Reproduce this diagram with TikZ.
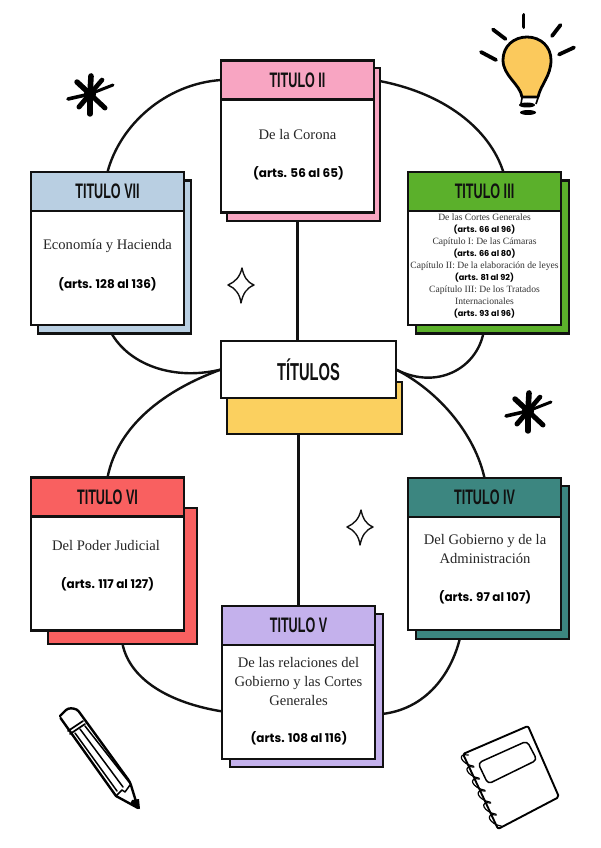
\documentclass[tikz,border=0pt]{standalone}
\usepackage{fontspec}
\usepackage{xcolor}
\usetikzlibrary{positioning,backgrounds,calc}
\setmainfont{Liberation Serif}
\newfontfamily\headfont[FakeStretch=0.6]{Liberation Sans}
\newfontfamily\artsfont{Poppins}
\newcommand{\smallarts}{\artsfont\bfseries\fontsize{8.2}{12.1}\selectfont\color{black}}
\definecolor{pinkt}{HTML}{F8A5C2}
\definecolor{greent}{HTML}{5BB02B}
\definecolor{bluet}{HTML}{B9CFE2}
\definecolor{redt}{HTML}{F96060}
\definecolor{tealt}{HTML}{3C8680}
\definecolor{lilact}{HTML}{C4B1EC}
\definecolor{yellowt}{HTML}{FBD05F}
\definecolor{bulbt}{HTML}{FBC95C}
\definecolor{inkt}{HTML}{111111}

\begin{document}
\begin{tikzpicture}[
  x=1pt, y=-1pt,
  backbox/.style={rectangle, draw=inkt, line width=2.1pt, minimum width=153pt, minimum height=153pt,
                  inner sep=0pt, outer sep=0pt},
  headbox/.style={rectangle, draw=inkt, line width=2.1pt, minimum width=153pt, minimum height=39pt,
                  inner sep=0pt, outer sep=0pt, align=center, text=inkt,
                  font=\headfont\bfseries\fontsize{21}{23}\selectfont},
  bodybox/.style={rectangle, draw=inkt, fill=white, line width=2.1pt, minimum width=153pt,
                  minimum height=114pt, inner sep=0pt, outer sep=0pt},
  desc/.style={align=center, inner sep=0pt, text=black!85, font=\fontsize{14.6}{19}\selectfont},
  arts/.style={inner sep=0pt, text=black, font=\artsfont\bfseries\fontsize{12}{14}\selectfont},
  smalldesc/.style={align=center, inner sep=0pt, text=black!80, font=\fontsize{9.6}{12.1}\selectfont},
  conn/.style={line width=2.4pt, draw=inkt},
  ray/.style={line width=3.8pt, line cap=round, draw=black},
  thin ink/.style={line width=1.5pt, draw=black, line join=round, line cap=round}
]
\useasboundingbox (0,0) rectangle (600,848);
%% ── TITULO II (top) ─────────────────────────────────────────────────────
\node[backbox, fill=pinkt] (backii) at (303.5,144.5) {};
\node[headbox, fill=pinkt] (headii) at (297.5,80) {TITULO II};
\node[bodybox, below=0pt of headii, minimum height=113pt] (bodyii) {};
\node[desc] (descii) at (297.5,135) {De la Corona};
\node[arts] (artsii) at (298.5,173) {(arts. 56 al 65)};
%% ── TITULO VII (upper left) ─────────────────────────────────────────────
\node[backbox, fill=bluet] (backvii) at (114.5,257) {};
\node[headbox, fill=bluet] (headvii) at (107.5,191.5) {TITULO VII};
\node[bodybox, below=0pt of headvii] (bodyvii) {};
\node[desc] (descvii) at (107.5,246) {Economía y Hacienda};
\node[arts] (artsvii) at (107.5,284) {(arts. 128 al 136)};
%% ── TITULO III (upper right) ────────────────────────────────────────────
\node[backbox, fill=greent] (backiii) at (492.5,257) {};
\node[headbox, fill=greent] (headiii) at (484.5,191.5) {TITULO III};
\node[bodybox, below=0pt of headiii] (bodyiii) {};
\node[smalldesc] (desciii) at (484.5,266) {De las Cortes Generales\\
  {\smallarts (arts. 66 al 96)}\\
  Capítulo I: De las Cámaras\\
  {\smallarts (arts. 66 al 80)}\\
  Capítulo II: De la elaboración de leyes\\
  {\smallarts (arts. 81 al 92)}\\
  Capítulo III: De los Tratados\\
  Internacionales\\
  {\smallarts (arts. 93 al 96)}};
%% ── TITULOS (centre) ────────────────────────────────────────────────────
\node[backbox, fill=yellowt, minimum width=175pt, minimum height=52pt] (backmain) at (314.5,408) {};
\node[headbox, fill=white, minimum width=175pt, minimum height=57pt,
      font=\headfont\bfseries\fontsize{24.5}{26}\selectfont] (main) at (308.5,369.5) {TÍTULOS};
%% ── TITULO VI (lower left) ──────────────────────────────────────────────
\node[backbox, fill=redt, minimum width=149pt, minimum height=136pt] (backvi) at (122.5,576) {};
\node[headbox, fill=redt] (headvi) at (107.5,497) {TITULO VI};
\node[bodybox, below=0pt of headvi] (bodyvi) {};
\node[desc] (descvi) at (106,546) {Del Poder Judicial};
\node[arts] (artsvi) at (107.5,584) {(arts. 117 al 127)};
%% ── TITULO IV (lower right) ─────────────────────────────────────────────
\node[backbox, fill=tealt] (backiv) at (492.5,562.5) {};
\node[headbox, fill=tealt] (headiv) at (484.5,497.5) {TITULO IV};
\node[bodybox, below=0pt of headiv, minimum height=113pt] (bodyiv) {};
\node[desc] (desciv) at (485,549) {Del Gobierno y de la\\Administración};
\node[arts] (artsiv) at (485,597) {(arts. 97 al 107)};
%% ── TITULO V (bottom) ───────────────────────────────────────────────────
\node[backbox, fill=lilact] (backv) at (306.5,690.5) {};
\node[headbox, fill=lilact] (headv) at (298.5,625.5) {TITULO V};
\node[bodybox, below=0pt of headv] (bodyv) {};
\node[desc] (descv) at (298.5,681) {De las relaciones del\\Gobierno y las Cortes\\Generales};
\node[arts] (artsv) at (299,738) {(arts. 108 al 116)};
%% ── Connectors (behind the cards) ───────────────────────────────────────
\begin{scope}[on background layer]
  \draw[conn] (bodyii.south) -- (bodyii.south |- main.north);
  \draw[conn] (headv.north) -- (headv.north |- backmain.south);
  \draw[conn] (headvii.north) .. controls (120,125) and (165,84) .. (headii.west);
  \draw[conn] (headiii.46) .. controls (490,130) and (445,92) .. (headii.east);
  \draw[conn] (bodyvii.south) .. controls (122,362) and (170,382) .. (main.west);
  \draw[conn] (bodyiii.south) .. controls (482,365) and (440,392) .. (main.east);
  \draw[conn] (main.west) .. controls (165,390) and (118,425) .. (headvi.north);
  \draw[conn] (main.east) .. controls (440,392) and (475,435) .. (headiv.north);
  \draw[conn] (backvi.south) .. controls (130,680) and (170,703) .. (bodyv.187);
  \draw[conn] (bodyiv.-112) .. controls (455,668) and (430,708) .. (backv.-17);
\end{scope}
%% ── Light bulb ──────────────────────────────────────────────────────────
\fill[black] (527,105) ellipse[x radius=8, y radius=2.5];
\fill[black] (528,112.5) ellipse[x radius=8, y radius=2.5];
\draw[line width=1.6pt, draw=black] (522,98) -- (521,104) (538,98) -- (536,104);
\draw[line width=2.8pt, draw=black, fill=bulbt, line join=round]
  (522,97) .. controls (520,84) and (503,76) .. (503,60)
  .. controls (503,46) and (514,37) .. (527,37)
  .. controls (541,37) and (551,47) .. (551,60)
  .. controls (551,76) and (541,84) .. (538,97) -- cycle;
\draw[ray] (523.5,15) -- (523.5,27);
\draw[ray] (560.5,25) -- (552,36);
\draw[ray] (574,47.5) -- (559,54.5);
\draw[ray] (493,29.5) -- (505.5,39);
\draw[ray] (481,52) -- (496,60);
%% ── Asterisks ───────────────────────────────────────────────────────────
\foreach \px/\py in {90/94, 528/411}{
  \begin{scope}[shift={(\px,\py)}]
    \fill[black] (0,0) circle[radius=6];
    \draw[ray, line width=5.6pt] (0,0) -- (1,-18);
    \draw[ray, line width=5.4pt] (0,0) -- (-13,-12);
    \draw[ray, line width=4.6pt] (0,0) -- (12,-14);
    \draw[ray, line width=3pt] (0,0) -- (23,-9);
    \draw[ray, line width=5pt] (0,0) -- (15,14);
    \draw[ray, line width=5.4pt] (0,0) -- (0,20);
    \draw[ray, line width=5pt] (0,0) -- (-11,13);
    \draw[ray, line width=3.6pt] (0,0) -- (-22,5);
  \end{scope}
}
%% ── Sparkles ────────────────────────────────────────────────────────────
\foreach \px/\py in {241/285, 360/527}{
  \draw[line width=1.4pt, draw=inkt, line join=round] (\px+1,\py-17)
    .. controls (\px+3,\py-8) and (\px+6,\py-3) .. (\px+13,\py)
    .. controls (\px+6,\py+3) and (\px+2,\py+8) .. (\px,\py+18)
    .. controls (\px-1,\py+9) and (\px-6,\py+3) .. (\px-13,\py)
    .. controls (\px-6,\py-3) and (\px-1,\py-8) .. (\px+1,\py-17) -- cycle;
}
%% ── Pencil ──────────────────────────────────────────────────────────────
\draw[thin ink, line width=2.4pt, rounded corners=3pt] (60,716) -- (68,708) -- (77,709) -- (130,782) -- (138,808);
\draw[thin ink, line width=2.4pt] (138,808) -- (116,796) -- (60.5,718);
\fill[black] (132,800) -- (139,799) -- (140,809) -- (130,804) -- cycle;
\draw[thin ink, line width=1.7pt] (68,731) -- (83,721) (70,734) -- (85,724);
\draw[thin ink, line width=1.5pt] (75,733) -- (117,791) (80,729) -- (123,787) (85,726) -- (129,782);
\draw[thin ink, line width=1.5pt] (116,796) -- (122,790) -- (125,792) -- (130,785);
%% ── Notebook ────────────────────────────────────────────────────────────
\coordinate (nbtl) at (463,754);
\coordinate (nbbl) at (498,829);
\draw[thin ink, line width=1.9pt, rounded corners=2pt] (nbtl) -- (528,726) -- (559,797) -- (nbbl) -- cycle;
\draw[thin ink, rounded corners=4pt] (478,763) -- (527,741) -- (537,760) -- (488,784) -- cycle;
\foreach \t in {0.04,0.2,0.36,0.52,0.68,0.84}{
  \draw[thin ink, line width=1.2pt] ($(nbtl)!\t!(nbbl)+(4,-2)$) to[out=170,in=170,looseness=2.6] ($(nbtl)!\t+0.15!(nbbl)+(4,-2)$);
}
\end{tikzpicture}
\end{document}
